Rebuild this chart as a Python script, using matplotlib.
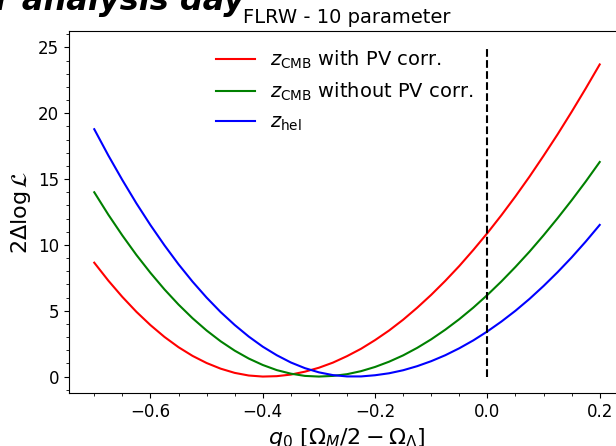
import matplotlib
matplotlib.use("Agg")
import matplotlib.pyplot as plt

# --------------------------------
# Datos: perfil de 2ΔlogL frente a q0
# --------------------------------
q0 = [-0.700, -0.675, -0.650, -0.625, -0.600, -0.575, -0.550, -0.525, -0.500,
      -0.475, -0.450, -0.425, -0.400, -0.375, -0.350, -0.325, -0.300, -0.275,
      -0.250, -0.225, -0.200, -0.175, -0.150, -0.125, -0.100, -0.075, -0.050,
      -0.025, 0.000, 0.025, 0.050, 0.075, 0.100, 0.125, 0.150, 0.175, 0.200]

cmb_pv = [8.65, 7.29, 6.05, 4.92, 3.91, 3.01, 2.23, 1.57, 1.03,
          0.60, 0.28, 0.08, 0.00, 0.03, 0.15, 0.37, 0.67, 1.06,
          1.55, 2.11, 2.77, 3.50, 4.32, 5.23, 6.21, 7.27, 8.40,
          9.62, 10.90, 12.26, 13.69, 15.19, 16.77, 18.40, 20.11, 21.88, 23.71]

cmb_nopv = [14.00, 12.30, 10.72, 9.24, 7.88, 6.62, 5.47, 4.43, 3.50,
            2.68, 1.97, 1.37, 0.88, 0.49, 0.22, 0.05, 0.00, 0.05,
            0.18, 0.41, 0.73, 1.13, 1.61, 2.18, 2.83, 3.56, 4.36,
            5.24, 6.20, 7.23, 8.33, 9.49, 10.73, 12.03, 13.39, 14.81, 16.30]

hel = [18.79, 16.80, 14.93, 13.16, 11.51, 9.97, 8.53, 7.21, 6.00,
       4.90, 3.92, 3.04, 2.27, 1.62, 1.07, 0.64, 0.32, 0.11,
       0.01, 0.01, 0.10, 0.25, 0.48, 0.79, 1.17, 1.62, 2.15,
       2.75, 3.43, 4.18, 5.00, 5.90, 6.88, 7.93, 9.05, 10.25, 11.52]

labels = [r'$z_{\rm CMB}$ with PV corr.', r'$z_{\rm CMB}$ without PV corr.', r'$z_{\rm hel}$']

# --------------------------------
# Figura
# --------------------------------
fig = plt.figure(figsize=(6.16, 4.46), dpi=100)
fig.text(-0.008, 0.978, 'r analysis day', fontsize=23, style='italic', weight='bold')

ax = fig.add_axes([0.112, 0.1188, 0.9026, 0.8117])
ax.plot(q0, cmb_pv, color='r', lw=1.5, label=labels[0])
ax.plot(q0, cmb_nopv, color='g', lw=1.5, label=labels[1])
ax.plot(q0, hel, color='b', lw=1.5, label=labels[2])
ax.vlines(0, 0, 25, colors='k', linestyles='dashed', lw=1.5)

ax.set_xlim(-0.745, 0.245)
ax.set_ylim(-1.25, 26.25)
ax.minorticks_on()
ax.tick_params(labelsize=12)
ax.set_xlabel(r'$q_0\ [\Omega_M/2 - \Omega_\Lambda]$', fontsize=16)
ax.set_ylabel(r'$2\Delta \log \mathcal{L}$', fontsize=16)
ax.set_title('FLRW - 10 parameter', fontsize=14)
ax.legend(loc='upper left', bbox_to_anchor=(0.233, 0.999), frameon=False, fontsize=14)

fig.savefig('out.png', dpi=100)
